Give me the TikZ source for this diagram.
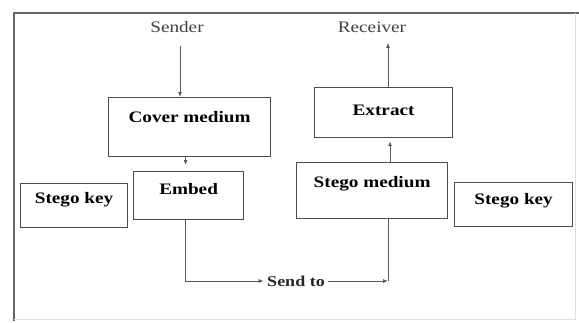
\documentclass[tikz,border=0pt]{standalone}
\usepackage{fontspec}
\setmainfont{Liberation Serif}[FakeStretch=1.2]
\usetikzlibrary{positioning,arrows.meta}

\begin{document}
\begin{tikzpicture}[x=1pt, y=-1pt,
        boxnode/.style={draw=black!70, line width=1.2pt, inner sep=0pt, anchor=north west, font=\fontsize{16}{19}\selectfont\bfseries},
        namenode/.style={text=black!75, font=\fontsize{16}{19}\selectfont},
        flow/.style={draw=black!65, line width=0.8pt},
        tip/.style={-{Latex[length=5pt,width=4pt]}},
]
        \useasboundingbox (0,0) rectangle (579,322);
        \draw[black!60, line width=1.5pt] (14,321) -- (14,13) -- (579,13);
        \draw[black!12, line width=0.8pt] (14,319) -- (575,319) -- (575,13);

        \node[namenode] (sender) at (177,27) {Sender};
        \node[namenode] (receiver) at (372,27) {Receiver};

        \node[boxnode, minimum width=162pt, text height=25pt, text depth=34pt] (cover) at (108,97) {Cover medium};
        \node[boxnode, minimum width=110pt, text height=23pt, text depth=25pt] (embed) at (133,171) {Embed};
        \node[boxnode, minimum width=107pt, text height=20pt, text depth=24pt] (leftkey) at (20,183) {Stego key};
        \node[boxnode, minimum width=151pt, text height=25pt, text depth=31pt] (stegomed) at (296,162) {Stego medium};
        \node[boxnode, minimum width=118pt, text height=22pt, text depth=22pt] (rightkey) at (454,182) {Stego key};
        \node[boxnode, minimum width=138pt, text height=28pt, text depth=22pt] (extract) at (314,87) {Extract};

        \node[font=\fontsize{15}{18}\selectfont\bfseries, text=black!85] (sendto) at (296,281) {Send to};
        \coordinate (riser) at (388,281);

        \draw[flow,tip,shorten <=10pt] ([xshift=3pt]sender.south) -- ([xshift=3pt]sender.south |- cover.north);
        \draw[flow,tip,shorten >=6pt] ([xshift=-3pt]embed.north |- cover.south) -- ([xshift=-3pt]embed.north);
        \draw[flow,tip] ([xshift=-3pt]embed.south) |- (sendto.west);
        \draw[flow,tip] (sendto.east) -- (riser);
        \draw[flow] (riser) -- (riser |- stegomed.south);
        \draw[flow,tip,shorten >=3pt] ([xshift=2pt]riser |- stegomed.north) -- ([xshift=2pt]riser |- extract.south);
        \draw[flow,tip,shorten >=7pt] (riser |- extract.north) -- (riser |- receiver.south);
    \end{tikzpicture}
\end{document}
